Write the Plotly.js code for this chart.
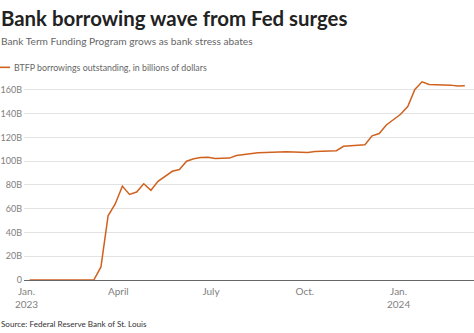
<!DOCTYPE html>
<html>
<head>
<meta charset="utf-8">
<script src="https://cdn.plot.ly/plotly-3.0.1.min.js"></script>
<style>
html,body{margin:0;padding:0;background:#fff;}
#chart{width:474px;height:333px;}
</style>
</head>
<body>
<div id="chart"></div>
<script>
const dates = [
  "2023-01-04","2023-01-11","2023-01-18","2023-01-25","2023-02-01","2023-02-08","2023-02-15","2023-02-22",
  "2023-03-01","2023-03-08","2023-03-15","2023-03-22","2023-03-29","2023-04-05","2023-04-12","2023-04-19",
  "2023-04-26","2023-05-03","2023-05-10","2023-05-17","2023-05-24","2023-05-31","2023-06-07","2023-06-14",
  "2023-06-21","2023-06-28","2023-07-05","2023-07-12","2023-07-19","2023-07-26","2023-08-02","2023-08-09",
  "2023-08-16","2023-08-23","2023-08-30","2023-09-06","2023-09-13","2023-09-20","2023-09-27","2023-10-04",
  "2023-10-11","2023-10-18","2023-10-25","2023-11-01","2023-11-08","2023-11-15","2023-11-22","2023-11-29",
  "2023-12-06","2023-12-13","2023-12-20","2023-12-27","2024-01-03","2024-01-10","2024-01-17","2024-01-24",
  "2024-01-31","2024-02-07","2024-02-14","2024-02-21","2024-02-28","2024-03-06"
];
const btfp = [
  0,0,0,0,0,0,0,0,
  0,0,11,54,64,79,72,74,
  81,75.5,83,87,91.5,93,100,102,
  103,103.2,102.3,102.4,102.6,104.7,105.5,106.5,
  107.1,107.3,107.6,107.6,107.9,107.7,107.4,107.3,
  108.2,108.5,108.7,108.8,112.5,112.8,113.3,113.8,
  121.3,123.3,130.5,135,139.5,146,160.4,166.8,
  164.6,164.4,164.3,164.0,163.2,163.5
];
const yTickVals = [0,20,40,60,80,100,120,140,160];
const yTickText = ["0","20B","40B","60B","80B","100B","120B","140B","160B"];
const xTickVals = ["2023-01-01","2023-04-01","2023-07-01","2023-10-01","2024-01-01"];
const xTickText = ["Jan.<br>2023","April","July","Oct.","Jan.<br>2024"];

const lineColor = "#d0621f";
const FONT = "Lato, 'Noto Sans', sans-serif";
const L = 24, W = 450;
const px = v => -L/W + v/W;

const trace = {
  x: dates, y: btfp, type: "scatter", mode: "lines",
  line: {color: lineColor, width: 1.5},
  showlegend: false, hoverinfo: "skip"
};

const layout = {
  width: 474, height: 333,
  margin: {l: L, r: 0, t: 77.7, b: 52.5},
  paper_bgcolor: "#fff", plot_bgcolor: "#fff",
  font: {family: FONT, color: "#666", size: 10},
  xaxis: {
    type: "date",
    range: ["2022-12-29 12:00", "2024-03-15"],
    tickvals: xTickVals, ticktext: xTickText,
    showgrid: false, zeroline: false,
    showline: true, linecolor: "#666", linewidth: 1,
    ticks: "", ticklabelstandoff: 2,
    tickfont: {family: FONT, size: 10, color: "#808080"}
  },
  yaxis: {
    range: [0, 170],
    tickvals: yTickVals, ticktext: yTickText,
    showgrid: true, gridcolor: "#e3e3e3", gridwidth: 1,
    zeroline: false, showline: false, ticks: "",
    ticklabelstandoff: 1,
    tickfont: {family: FONT, size: 9, color: "#808080"}
  },
  shapes: [
    {type: "line", xref: "paper", yref: "paper", x0: px(0), x1: px(10),
     y0: (280.5-67)/202.8, y1: (280.5-67)/202.8, line: {color: lineColor, width: 1.6}}
  ],
  annotations: [
    {text: "<b>Bank borrowing wave from Fed surges</b>", xref: "paper", yref: "paper",
     x: px(-1), y: (280.5-17)/202.8, xanchor: "left", yanchor: "middle", showarrow: false,
     font: {family: FONT, size: 20.4, color: "#222"}},
    {text: "Bank Term Funding Program grows as bank stress abates", xref: "paper", yref: "paper",
     x: px(-1), y: (280.5-41)/202.8, xanchor: "left", yanchor: "middle", showarrow: false,
     font: {family: FONT, size: 10.2, color: "#666"}},
    {text: "BTFP borrowings outstanding, in billions of dollars", xref: "paper", yref: "paper",
     x: px(12), y: (280.5-67)/202.8, xanchor: "left", yanchor: "middle", showarrow: false,
     font: {family: FONT, size: 8.8, color: "#666"}},
    {text: "Source: Federal Reserve Bank of St. Louis", xref: "paper", yref: "paper",
     x: px(-1), y: (280.5-325)/202.8, xanchor: "left", yanchor: "middle", showarrow: false,
     font: {family: FONT, size: 8.1, color: "#333"}}
  ]
};

Plotly.newPlot("chart", [trace], layout, {displayModeBar: false, staticPlot: true});
</script>
</body>
</html>
